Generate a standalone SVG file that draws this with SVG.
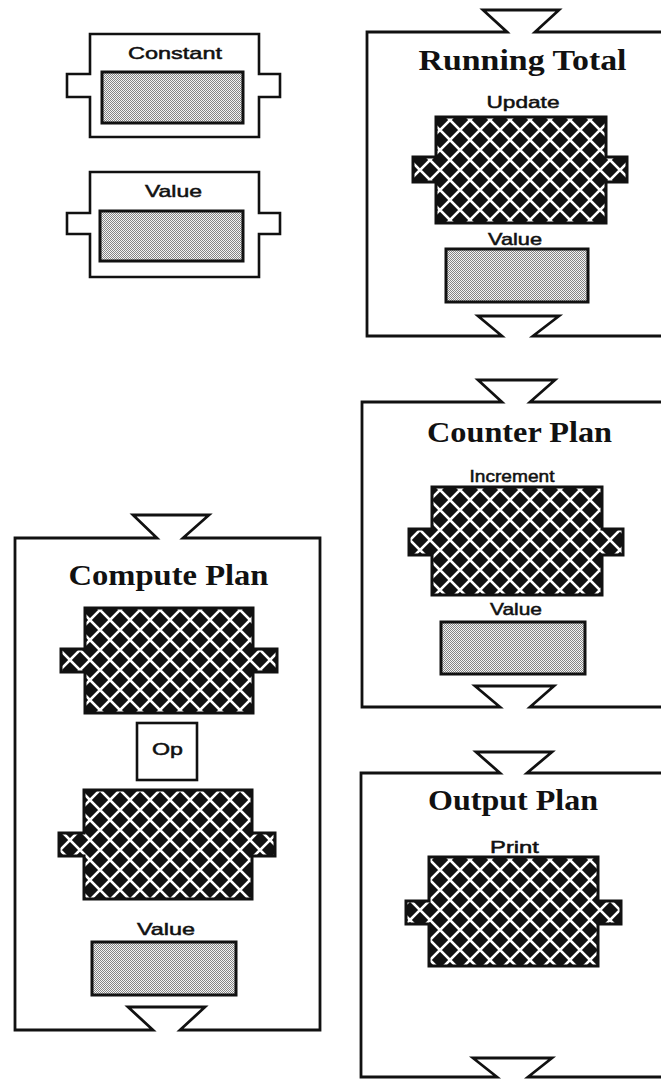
<svg xmlns="http://www.w3.org/2000/svg" width="661" height="1081" viewBox="0 0 661 1081">
<defs>
<pattern id="mesh" patternUnits="userSpaceOnUse" width="20" height="20">
<rect width="20" height="20" fill="#111"/>
<polygon points="10,0 20,10 10,20 0,10" fill="none" stroke="#fff" stroke-width="2.6" stroke-linejoin="round"/>
</pattern>
<pattern id="stipple" patternUnits="userSpaceOnUse" width="2" height="2">
<rect width="2" height="2" fill="#f4f4f4"/>
<rect x="0" y="0" width="1" height="1" fill="#858585"/>
<rect x="1" y="1" width="1" height="1" fill="#858585"/>
</pattern>
</defs>
<style>
.frame{fill:none;stroke:#111;stroke-width:2.8;stroke-linejoin:miter}
.box{fill:#fff;stroke:#111;stroke-width:2.6}
.mesh{fill:url(#mesh);stroke:#111;stroke-width:3}
.gray{fill:url(#stipple);stroke:#111;stroke-width:3}
.title{font-family:"Liberation Serif","Times New Roman",serif;font-weight:bold;font-size:30px;fill:#111;text-anchor:middle}
.lbl{font-family:"Liberation Sans",Arial,sans-serif;font-size:17px;fill:#111;stroke:#111;stroke-width:0.5;text-anchor:middle}
</style>
<rect width="661" height="1081" fill="#fff"/>

<g id="constant">
<path class="box" d="M90,34 L259,34 L259,74 L280,74 L280,97 L259,97 L259,137 L90,137 L90,97 L67,97 L67,74 L90,74 Z"/>
<rect class="gray" x="102" y="72" width="141" height="51"/>
<text class="lbl" x="175" y="59" textLength="94" lengthAdjust="spacingAndGlyphs">Constant</text>
</g>

<g id="value">
<path class="box" d="M90,172 L259,172 L259,213 L280,213 L280,234 L259,234 L259,277 L90,277 L90,234 L67,234 L67,213 L90,213 Z"/>
<rect class="gray" x="100" y="211" width="143" height="50"/>
<text class="lbl" x="173.5" y="197" textLength="57" lengthAdjust="spacingAndGlyphs">Value</text>
</g>

<g id="running-total">
<path class="frame" d="M664,32 L535,32 L559,10 L483,10 L507,32 L367,32 L367,336 L502,336 L478,316 L559,316 L533,336 L664,336"/>
<text class="title" x="522.5" y="70" textLength="208" lengthAdjust="spacingAndGlyphs">Running Total</text>
<text class="lbl" x="523" y="108" textLength="73" lengthAdjust="spacingAndGlyphs">Update</text>
<path class="mesh" d="M436,117 L606,117 L606,157 L627,157 L627,182 L606,182 L606,223 L436,223 L436,182 L413,182 L413,157 L436,157 Z"/>
<text class="lbl" x="515" y="245" textLength="54" lengthAdjust="spacingAndGlyphs">Value</text>
<rect class="gray" x="446" y="249" width="142" height="53"/>
</g>

<g id="counter-plan">
<path class="frame" d="M664,402 L530,402 L555,380 L478,380 L502,402 L362,402 L362,707 L500,707 L475,686 L554,686 L530,707 L664,707"/>
<text class="title" x="519.5" y="442" textLength="185" lengthAdjust="spacingAndGlyphs">Counter Plan</text>
<text class="lbl" x="512" y="482" textLength="85" lengthAdjust="spacingAndGlyphs">Increment</text>
<path class="mesh" d="M432,487 L602,487 L602,529 L623,529 L623,555 L602,555 L602,595 L432,595 L432,555 L409,555 L409,529 L432,529 Z"/>
<text class="lbl" x="516" y="615" textLength="52" lengthAdjust="spacingAndGlyphs">Value</text>
<rect class="gray" x="441" y="622" width="144" height="52"/>
</g>

<g id="compute-plan">
<path class="frame" d="M15,538 L157,538 L133,515 L209,515 L183,538 L320,538 L320,1030 L180,1030 L205,1007 L128,1007 L153,1030 L15,1030 Z"/>
<text class="title" x="168.5" y="585" textLength="200" lengthAdjust="spacingAndGlyphs">Compute Plan</text>
<path class="mesh" d="M85,608 L253,608 L253,649 L277,649 L277,672 L253,672 L253,713 L85,713 L85,672 L61,672 L61,649 L85,649 Z"/>
<rect class="box" x="137" y="723" width="60" height="57"/>
<text class="lbl" x="167.5" y="755" textLength="31" lengthAdjust="spacingAndGlyphs">Op</text>
<path class="mesh" d="M84,790 L252,790 L252,833 L275,833 L275,856 L252,856 L252,899 L84,899 L84,856 L59,856 L59,833 L84,833 Z"/>
<text class="lbl" x="166" y="935" textLength="58" lengthAdjust="spacingAndGlyphs">Value</text>
<rect class="gray" x="92" y="942" width="144" height="53"/>
</g>

<g id="output-plan">
<path class="frame" d="M664,773 L527,773 L552,752 L476,752 L500,773 L361,773 L361,1077 L497,1077 L473,1058 L552,1058 L528,1077 L664,1077"/>
<text class="title" x="513" y="810" textLength="170" lengthAdjust="spacingAndGlyphs">Output Plan</text>
<text class="lbl" x="514.5" y="853" textLength="49" lengthAdjust="spacingAndGlyphs">Print</text>
<path class="mesh" d="M429,857 L598,857 L598,901 L621,901 L621,924 L598,924 L598,966 L429,966 L429,924 L406,924 L406,901 L429,901 Z"/>
</g>

<g id="connectors"/>
</svg>
